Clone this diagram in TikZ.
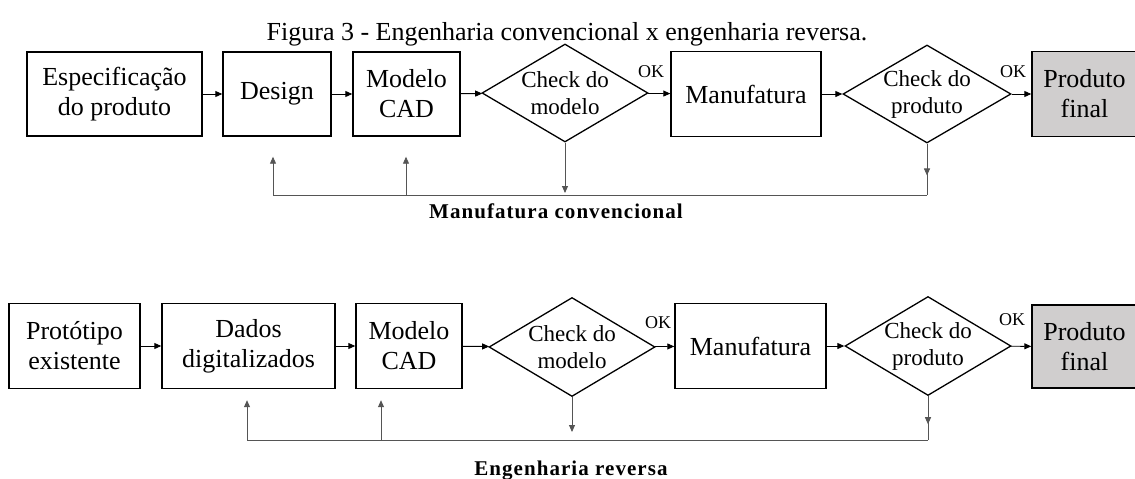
\documentclass[tikz,border=0pt]{standalone}
\usepackage{fontspec}
\setmainfont{Liberation Serif}
\newfontfamily\spacedfont[LetterSpace=5]{Liberation Serif}
\usetikzlibrary{shapes.geometric,arrows.meta,decorations.markings}
\definecolor{cinzafim}{RGB}{208,206,206}
\definecolor{linha}{RGB}{85,85,85}

\begin{document}
\begin{tikzpicture}[x=1pt,y=-1pt,>={Triangle[length=7pt,width=6pt]},
  blk/.style={draw,line width=1.4pt,rectangle,inner sep=0pt,align=center,font=\fontsize{26}{30}\selectfont},
  chk/.style={draw,line width=1.3pt,diamond,aspect=1.68,inner sep=-1pt,align=center,font=\fontsize{23}{27}\selectfont},
  fim/.style={blk,fill=cinzafim},
  ok/.style={inner sep=0pt,font=\fontsize{18}{20}\selectfont},
  seta/.style={draw=black,line width=0.9pt,->},
  fb/.style={draw=linha,line width=0.9pt},
  midarrow/.style={postaction={decorate},decoration={markings,mark=at position #1 with {\arrow{>}}}},
  rotulo/.style={anchor=base,inner sep=0pt,font=\fontsize{21}{24}\selectfont\spacedfont\bfseries}]
\path[use as bounding box] (0,0) rectangle (1135,479);
\node[anchor=base,inner sep=0pt,font=\fontsize{26}{30}\selectfont] (titulo) at (567,40) {Figura 3 - Engenharia convencional x engenharia reversa.};
% manufatura convencional
\node[blk,minimum width=175pt,minimum height=84pt] (spec) at (114.5,94) {Especificação\\do produto};
\node[blk,minimum width=108pt,minimum height=84pt] (design) at (277,94) {Design};
\node[blk,minimum width=107pt,minimum height=84pt] (cad1) at (406.5,94) {Modelo\\CAD};
\node[chk,minimum width=166pt,minimum height=98pt] (chk1) at (565,93) {Check do\\modelo};
\node[blk,minimum width=150pt,minimum height=85pt] (man1) at (746,94) {Manufatura};
\node[chk,minimum width=168pt,minimum height=98pt] (chk2) at (927,94) {Check do\\produto};
\node[fim,minimum width=105pt,minimum height=85pt] (prod1) at (1084.5,94) {Produto\\final};
\node[ok] (ok1) at (651,72) {OK};
\node[ok] (ok2) at (1013,72) {OK};
\draw[seta] (spec) -- (design);
\draw[seta] (design) -- (cad1);
\draw[seta] (cad1) -- (chk1);
\draw[seta] (chk1) -- (man1);
\draw[seta] (man1) -- (chk2);
\draw[seta] (chk2) -- (prod1);
\coordinate (t0) at (273,195);
\coordinate (t1) at (406,195);
\coordinate (t2) at (565,195);
\coordinate (t3) at (927,195);
\draw[fb,midarrow=0.62] (chk2.south) -- (t3);
\draw[fb] (t3) -- (t0);
\draw[fb,->,shorten >=20pt] (t0) -- (t0 |- design.south);
\draw[fb,->,shorten >=20pt] (t1) -- (t1 |- cad1.south);
\draw[fb,->,shorten >=2pt] (chk1.south) -- (t2);
\node[rotulo] (conv) at (556,218) {Manufatura convencional};
% engenharia reversa
\node[blk,minimum width=131pt,minimum height=85pt] (prot) at (74.5,346) {Protótipo\\existente};
\node[blk,minimum width=173pt,minimum height=85pt] (dados) at (248.5,346) {Dados\\digitalizados};
\node[blk,minimum width=106pt,minimum height=85pt] (cad2) at (409,346) {Modelo\\CAD};
\node[chk,minimum width=166pt,minimum height=99pt] (chk3) at (572,347) {Check do\\modelo};
\node[blk,minimum width=151pt,minimum height=85pt] (man2) at (750.5,346) {Manufatura};
\node[chk,minimum width=166pt,minimum height=99pt] (chk4) at (928,346) {Check do\\produto};
\node[fim,minimum width=105pt,minimum height=83pt] (prod2) at (1084.5,346.5) {Produto\\final};
\node[ok] (ok3) at (658,323) {OK};
\node[ok] (ok4) at (1012,320) {OK};
\draw[seta] (prot) -- (dados);
\draw[seta] (dados) -- (cad2);
\draw[seta] (cad2) -- (chk3);
\draw[seta] (chk3) -- (man2);
\draw[seta] (man2) -- (chk4);
\draw[seta] (chk4) -- (prod2);
\coordinate (b0) at (247,440);
\coordinate (b1) at (381,440);
\coordinate (b2) at (572,440);
\coordinate (b3) at (928,440);
\draw[fb,midarrow=0.64] (chk4.south) -- (b3);
\draw[fb] (b3) -- (b0);
\draw[fb,->,shorten >=11pt] (b0) -- (b0 |- dados.south);
\draw[fb,->,shorten >=11pt] (b1) -- (b1 |- cad2.south);
\draw[fb,->,shorten >=8pt] (chk3.south) -- (b2);
\node[rotulo] (rev) at (571,475) {Engenharia reversa};
\end{tikzpicture}
\end{document}
